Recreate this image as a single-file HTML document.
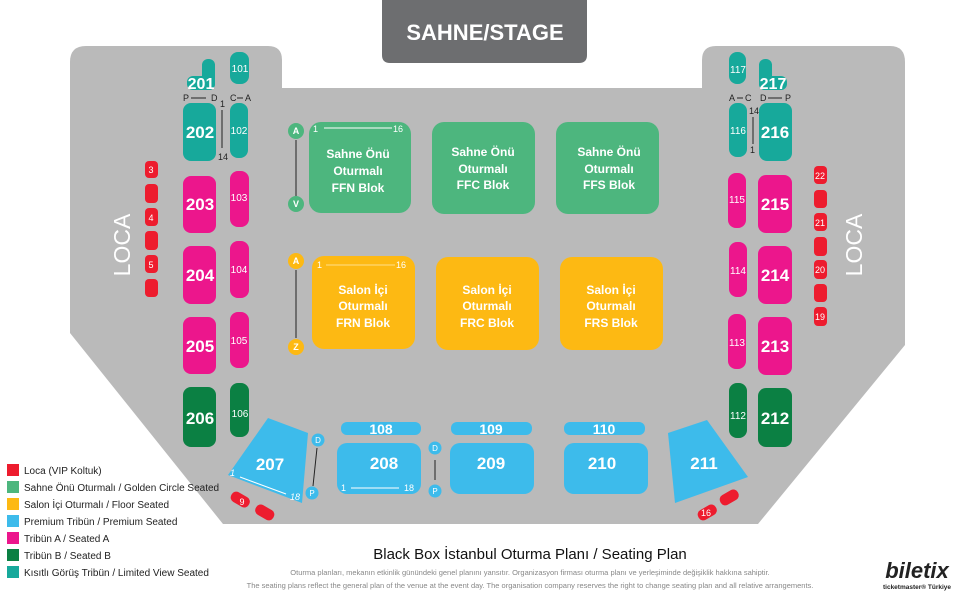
<!DOCTYPE html>
<html><head><meta charset="utf-8"><style>
html,body{margin:0;padding:0;background:#fff;}
svg{display:block;font-family:"Liberation Sans","DejaVu Sans",sans-serif;}
</style></head><body>
<svg width="975" height="600" viewBox="0 0 975 600" xmlns="http://www.w3.org/2000/svg">
<!-- venue -->
<path d="M70,333 L70,62 Q70,46 86,46 L268,46 Q282,46 282,60 L282,88 L702,88 L702,60 Q702,46 716,46 L890,46 Q905,46 905,62 L905,345 L758,524 L223,524 Z" fill="#bababa"/>
<!-- stage -->
<path d="M382,0 L587,0 L587,55 Q587,63 579,63 L390,63 Q382,63 382,55 Z" fill="#6d6e70"/>
<text x="485" y="40" text-anchor="middle" fill="#fff" font-size="22" font-weight="bold">SAHNE/STAGE</text>

<g fill="#17a99b">
<rect x="202" y="59" width="13" height="31" rx="6"/><rect x="187" y="76" width="28" height="14" rx="6"/>
<rect x="230" y="52" width="19" height="32" rx="8"/>
<rect x="183" y="103" width="33" height="58" rx="8"/><rect x="230" y="103" width="18" height="55" rx="8"/>
<rect x="759" y="59" width="13" height="31" rx="6"/><rect x="759" y="76" width="28" height="14" rx="6"/>
<rect x="729" y="52" width="17" height="32" rx="8"/>
<rect x="759" y="103" width="33" height="58" rx="8"/><rect x="729" y="103" width="18" height="54" rx="8"/>
</g>
<g fill="#ec168c">
<rect x="183" y="176" width="33" height="57" rx="8"/><rect x="230" y="171" width="19" height="56" rx="8"/>
<rect x="183" y="246" width="33" height="58" rx="8"/><rect x="230" y="241" width="19" height="57" rx="8"/>
<rect x="183" y="317" width="33" height="57" rx="8"/><rect x="230" y="312" width="19" height="56" rx="8"/>
<rect x="758" y="175" width="34" height="58" rx="8"/><rect x="728" y="173" width="18" height="55" rx="8"/>
<rect x="758" y="246" width="34" height="58" rx="8"/><rect x="729" y="242" width="18" height="55" rx="8"/>
<rect x="758" y="317" width="34" height="58" rx="8"/><rect x="728" y="314" width="18" height="55" rx="8"/>
</g>
<g fill="#0b8043">
<rect x="183" y="387" width="33" height="60" rx="8"/><rect x="230" y="383" width="19" height="54" rx="8"/>
<rect x="758" y="388" width="34" height="59" rx="8"/><rect x="729" y="383" width="18" height="55" rx="8"/>
</g>
<g fill="#ed1c2e">
<rect x="145" y="161" width="13" height="17" rx="4"/><rect x="145" y="184" width="13" height="19" rx="4"/>
<rect x="145" y="208" width="13" height="18" rx="4"/><rect x="145" y="231" width="13" height="19" rx="4"/>
<rect x="145" y="255" width="13" height="18" rx="4"/><rect x="145" y="279" width="13" height="18" rx="4"/>
<rect x="814" y="166" width="13" height="18" rx="4"/><rect x="814" y="190" width="13" height="18" rx="4"/>
<rect x="814" y="213" width="13" height="18" rx="4"/><rect x="814" y="237" width="13" height="19" rx="4"/>
<rect x="814" y="260" width="13" height="19" rx="4"/><rect x="814" y="284" width="13" height="18" rx="4"/>
<rect x="814" y="307" width="13" height="19" rx="4"/>
<rect x="230" y="494" width="20" height="11" rx="5" transform="rotate(30 240 500)"/>
<rect x="255" y="507" width="20" height="11" rx="5" transform="rotate(30 265 512)"/>
<rect x="697" y="507" width="20" height="11" rx="5" transform="rotate(-30 707 512)"/>
<rect x="719" y="492" width="20" height="11" rx="5" transform="rotate(-30 729 497)"/>
</g>
<g fill="#fff" text-anchor="middle" font-size="9">
<text x="151" y="173">3</text><text x="151" y="221">4</text><text x="151" y="268">5</text>
<text x="820" y="179">22</text><text x="820" y="226">21</text><text x="820" y="273">20</text><text x="820" y="320">19</text>
<text x="242" y="505">9</text><text x="706" y="516">16</text>
</g>
<text transform="translate(130,245) rotate(-90)" text-anchor="middle" fill="#fff" font-size="23">LOCA</text>
<text transform="translate(862,245) rotate(-90)" text-anchor="middle" fill="#fff" font-size="23">LOCA</text>

<g fill="#fff" text-anchor="middle" font-weight="bold">
<g font-size="16"><text x="201" y="89">201</text><text x="773" y="89">217</text></g>
<g font-size="17">
<text x="200" y="138">202</text><text x="200" y="210">203</text><text x="200" y="281">204</text><text x="200" y="352">205</text><text x="200" y="424">206</text>
<text x="775" y="138">216</text><text x="775" y="210">215</text><text x="775" y="281">214</text><text x="775" y="352">213</text><text x="775" y="424">212</text>
</g>
</g>
<g fill="#fff" text-anchor="middle" font-size="10">
<text x="240" y="72">101</text><text x="239" y="134">102</text><text x="239" y="201">103</text><text x="239" y="273">104</text><text x="239" y="344">105</text><text x="240" y="417">106</text>
<text x="738" y="73">117</text><text x="738" y="134">116</text><text x="737" y="203">115</text><text x="738" y="274">114</text><text x="737" y="346">113</text><text x="738" y="419">112</text>
</g>
<g font-size="9" fill="#222">
<text x="183" y="101">P</text><line x1="191" y1="98" x2="206" y2="98" stroke="#222"/><text x="211" y="101">D</text>
<text x="230" y="101">C</text><line x1="237" y1="98" x2="243" y2="98" stroke="#222"/><text x="245" y="101">A</text>
<text x="220" y="107">1</text><line x1="222" y1="110" x2="222" y2="148" stroke="#222"/><text x="218" y="160">14</text>
<text x="729" y="101">A</text><line x1="737" y1="98" x2="743" y2="98" stroke="#222"/><text x="745" y="101">C</text>
<text x="760" y="101">D</text><line x1="768" y1="98" x2="782" y2="98" stroke="#222"/><text x="785" y="101">P</text>
<text x="749" y="114">14</text><line x1="753" y1="117" x2="753" y2="144" stroke="#222"/><text x="750" y="153">1</text>
</g>

<!-- center blocks -->
<g fill="#4db67e">
<rect x="309" y="122" width="102" height="91" rx="12"/><rect x="432" y="122" width="103" height="92" rx="12"/><rect x="556" y="122" width="103" height="92" rx="12"/>
<circle cx="296" cy="131" r="8"/><circle cx="296" cy="204" r="8"/>
</g>
<g fill="#fdb913">
<rect x="312" y="256" width="103" height="93" rx="12"/><rect x="436" y="257" width="103" height="93" rx="12"/><rect x="560" y="257" width="103" height="93" rx="12"/>
<circle cx="296" cy="261" r="8"/><circle cx="296" cy="347" r="8"/>
</g>
<line x1="296" y1="140" x2="296" y2="196" stroke="#222"/>
<line x1="296" y1="270" x2="296" y2="338" stroke="#222"/>
<g fill="#fff" font-size="9" font-weight="bold" text-anchor="middle">
<text x="296" y="134">A</text><text x="296" y="207">V</text><text x="296" y="264">A</text><text x="296" y="350">Z</text>
</g>
<g fill="#fff" font-size="9">
<text x="313" y="132">1</text><line x1="324" y1="128" x2="392" y2="128" stroke="#fff"/><text x="393" y="132">16</text>
<text x="317" y="268">1</text><line x1="326" y1="265" x2="395" y2="265" stroke="#ffe08a"/><text x="396" y="268">16</text>
</g>
<g fill="#fff" font-size="12" font-weight="bold" text-anchor="middle">
<text x="358" y="158">Sahne Önü</text><text x="358" y="175">Oturmalı</text><text x="358" y="192">FFN Blok</text>
<text x="483" y="156">Sahne Önü</text><text x="483" y="173">Oturmalı</text><text x="483" y="189">FFC Blok</text>
<text x="609" y="156">Sahne Önü</text><text x="609" y="173">Oturmalı</text><text x="609" y="189">FFS Blok</text>
<text x="363" y="294">Salon İçi</text><text x="363" y="310">Oturmalı</text><text x="363" y="327">FRN Blok</text>
<text x="487" y="294">Salon İçi</text><text x="487" y="310">Oturmalı</text><text x="487" y="327">FRC Blok</text>
<text x="611" y="294">Salon İçi</text><text x="611" y="310">Oturmalı</text><text x="611" y="327">FRS Blok</text>
</g>

<!-- premium -->
<g fill="#3dbbeb">
<polygon points="268,418 308,433 302,503 228,475"/>
<polygon points="668,433 707,420 748,477 675,503"/>
<rect x="341" y="422" width="80" height="13" rx="6"/><rect x="451" y="422" width="81" height="13" rx="6"/><rect x="564" y="422" width="81" height="13" rx="6"/>
<rect x="337" y="443" width="84" height="51" rx="10"/><rect x="450" y="443" width="84" height="51" rx="10"/><rect x="564" y="443" width="84" height="51" rx="10"/>
<circle cx="318" cy="440" r="6.5"/><circle cx="312" cy="493" r="6.5"/>
<circle cx="435" cy="448" r="6.5"/><circle cx="435" cy="491" r="6.5"/>
</g>
<line x1="317" y1="448" x2="313" y2="486" stroke="#222"/>
<line x1="435" y1="460" x2="435" y2="480" stroke="#222"/>
<g fill="#fff" font-size="8" text-anchor="middle">
<text x="318" y="443">D</text><text x="312" y="496">P</text><text x="435" y="451">D</text><text x="435" y="494">P</text>
</g>
<g fill="#fff" font-size="9">
<text x="230" y="476" font-style="italic">1</text><line x1="240" y1="477" x2="286" y2="494" stroke="#fff"/><text x="290" y="500" font-style="italic">18</text>
<text x="341" y="491">1</text><line x1="351" y1="488" x2="399" y2="488" stroke="#fff"/><text x="404" y="491">18</text>
</g>
<g fill="#fff" text-anchor="middle" font-weight="bold">
<g font-size="14"><text x="381" y="434">108</text><text x="491" y="434">109</text><text x="604" y="434">110</text></g>
<g font-size="17"><text x="270" y="470">207</text><text x="384" y="469">208</text><text x="491" y="469">209</text><text x="602" y="469">210</text><text x="704" y="469">211</text></g>
</g>

<!-- legend -->
<g font-size="10" fill="#222">
<rect x="7" y="464" width="12" height="12" fill="#ed1c2e"/><text x="24" y="474">Loca (VIP Koltuk)</text>
<rect x="7" y="481" width="12" height="12" fill="#4db67e"/><text x="24" y="491">Sahne Önü Oturmalı / Golden Circle Seated</text>
<rect x="7" y="498" width="12" height="12" fill="#fdb913"/><text x="24" y="508">Salon İçi Oturmalı / Floor Seated</text>
<rect x="7" y="515" width="12" height="12" fill="#3dbbeb"/><text x="24" y="525">Premium Tribün / Premium Seated</text>
<rect x="7" y="532" width="12" height="12" fill="#ec168c"/><text x="24" y="542">Tribün A / Seated A</text>
<rect x="7" y="549" width="12" height="12" fill="#0b8043"/><text x="24" y="559">Tribün B / Seated B</text>
<rect x="7" y="566" width="12" height="12" fill="#17a99b"/><text x="24" y="576">Kısıtlı Görüş Tribün / Limited View Seated</text>
</g>
<text x="530" y="559" text-anchor="middle" font-size="15" fill="#111">Black Box İstanbul Oturma Planı / Seating Plan</text>
<text x="530" y="575" text-anchor="middle" font-size="7.5" fill="#888">Oturma planları, mekanın etkinlik günündeki genel planını yansıtır. Organizasyon firması oturma planı ve yerleşiminde değişiklik hakkına sahiptir.</text>
<text x="530" y="588" text-anchor="middle" font-size="7.5" fill="#888">The seating plans reflect the general plan of the venue at the event day. The organisation company reserves the right to change seating plan and all relative arrangements.</text>
<text x="917" y="578" text-anchor="middle" font-size="22" font-weight="bold" font-style="italic" fill="#222">biletix</text>
<text x="917" y="589" text-anchor="middle" font-size="6.5" font-weight="bold" fill="#222">ticketmaster® Türkiye</text>
</svg>
</body></html>
